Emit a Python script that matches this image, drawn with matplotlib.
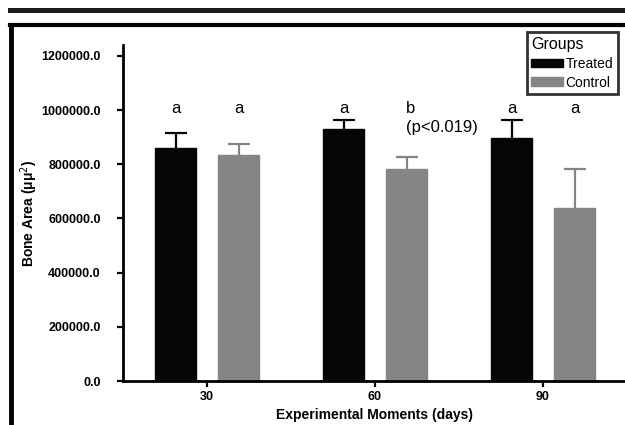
import matplotlib
matplotlib.use("Agg")
import matplotlib.pyplot as plt
from matplotlib.patches import Patch, Rectangle
from matplotlib.lines import Line2D
import numpy as np

plt.rcParams['font.family'] = ['Liberation Sans', 'DejaVu Sans']

categories = ["30", "60", "90"]
treated_mean = [861000, 931000, 898000]
treated_err = [53000, 31000, 65000]
control_mean = [833000, 781000, 640000]
control_err = [41000, 46000, 142000]
sig_letters_treated = ["a", "a", "a"]
sig_letters_control = ["a", "b", "a"]
yticks = [0, 200000, 400000, 600000, 800000, 1000000, 1200000]

W, H = 625, 425
fig = plt.figure(figsize=(W/100, H/100), dpi=100)
ax = fig.add_axes([123/W, 1-381/H, (W-123)/W, (381-45)/H])

x = np.arange(len(categories))
off = 0.1875
bw = 0.244
black = "#050505"
gray = "#858585"

# symmetric error bars drawn beneath the bars: only the upper half is visible
ax.errorbar(x-off, treated_mean, yerr=treated_err, fmt='none',
            ecolor=black, elinewidth=1.6, capsize=8, capthick=1.6, zorder=1)
ax.errorbar(x+off, control_mean, yerr=control_err, fmt='none',
            ecolor=gray, elinewidth=1.6, capsize=8, capthick=1.6, zorder=1)
ax.bar(x-off, treated_mean, width=bw, color=black, edgecolor=black, zorder=2, label="Treated")
ax.bar(x+off, control_mean, width=bw, color=gray, edgecolor=gray, zorder=2, label="Control")

for i in range(3):
    ax.text(x[i]-off, 1007000, sig_letters_treated[i], ha='center', va='center', fontsize=12)
    if sig_letters_control[i] == "b":
        ax.text(x[i]+off+0.025, 1007000, sig_letters_control[i], ha='center', va='center', fontsize=12)
        ax.text(x[i]+off-0.005, 937000, "(p<0.019)", ha='left', va='center', fontsize=12)
    else:
        ax.text(x[i]+off, 1007000, sig_letters_control[i], ha='center', va='center', fontsize=12)

ax.set_xlim(-0.5, -0.5 + (W-123)/168)
ax.set_ylim(0, 1240000)
ax.set_xticks(x)
ax.set_xticklabels(categories, fontsize=9, fontweight='bold')
ax.set_yticks(yticks)
ax.set_yticklabels([f"{v:.1f}" for v in yticks], fontsize=9, fontweight='bold')
ax.tick_params(axis='y', direction='out', length=4, width=1.6, pad=12)
ax.tick_params(axis='x', direction='out', length=4, width=1.6, pad=3)
for s in ['top', 'right']:
    ax.spines[s].set_visible(False)
for s in ['left', 'bottom']:
    ax.spines[s].set_linewidth(2)

ax.set_xlabel("Experimental Moments (days)", fontsize=10, fontweight='bold', labelpad=4)
ax.set_ylabel(r"Bone Area (μμ$^{2}$)", fontsize=10, fontweight='bold')
ax.yaxis.set_label_coords((40-123)/(W-123), 0.5)

handles = [Patch(facecolor=black, edgecolor=black), Patch(facecolor=gray, edgecolor=gray)]
leg = fig.legend(handles, ["Treated", "Control"], title="Groups", loc='upper right',
                 bbox_to_anchor=(618/W, 1-32/H), fontsize=10, title_fontsize=11.5,
                 frameon=True, fancybox=False, handlelength=2.3, handleheight=0.55,
                 handletextpad=0.15, borderpad=0.35, labelspacing=0.35, borderaxespad=0,
                 alignment='left')
leg.get_frame().set_edgecolor('black')
leg.get_frame().set_linewidth(2)

# page frame decorations
fig.add_artist(Rectangle((8/W, 1-12.5/H), (W-8)/W, 5/H, transform=fig.transFigure,
                         facecolor='#1a1a1a', edgecolor='none'))
fig.add_artist(Line2D([10/W, 1], [1-25/H, 1-25/H], transform=fig.transFigure,
                      color='black', linewidth=3))
fig.add_artist(Line2D([11/W, 11/W], [0, 1-25/H], transform=fig.transFigure,
                      color='black', linewidth=3.5))

fig.savefig("out.png", dpi=100)
